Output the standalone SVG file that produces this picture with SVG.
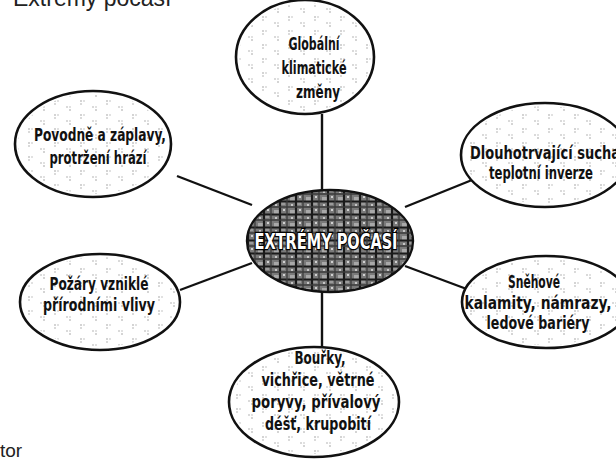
<svg xmlns="http://www.w3.org/2000/svg" width="616" height="459" viewBox="0 0 616 459">
<defs>
<pattern id="dots" width="26" height="14" patternUnits="userSpaceOnUse">
<circle cx="3" cy="3" r="0.7" fill="#888"/><circle cx="6" cy="3" r="0.7" fill="#aaa"/><circle cx="3" cy="6" r="0.7" fill="#999"/>
<circle cx="15" cy="9" r="0.7" fill="#999"/><circle cx="18" cy="9" r="0.7" fill="#aaa"/><circle cx="18" cy="12" r="0.7" fill="#888"/>
</pattern>
<pattern id="mesh" width="16" height="13" patternUnits="userSpaceOnUse">
<rect width="16" height="13" fill="#7a7a7a"/>
<rect x="2" y="2" width="5" height="4" fill="#a8a8a8"/>
<rect x="9" y="7" width="4" height="3" fill="#9a9a9a"/>
<rect x="11" y="1" width="2" height="2" fill="#cfcfcf"/>
<rect x="3" y="9" width="2" height="2" fill="#c5c5c5"/>
<path d="M0 6.5H16M8 0V13" stroke="#1a1a1a" stroke-width="2.2"/>
<path d="M0 12H16M15 0V13" stroke="#3a3a3a" stroke-width="1.3"/>
</pattern>
</defs>
<style>
.node ellipse{fill:#fff;stroke:#111;stroke-width:2.6}
.node ellipse.tex{fill:url(#dots);stroke:none}
.t{font-family:"DejaVu Sans Condensed","DejaVu Sans",sans-serif;font-weight:bold;font-size:17px;fill:#111;text-anchor:middle}
.c{stroke:#111;stroke-width:2.4;fill:none}
</style>
<text x="13" y="6" font-family="Liberation Sans, Arial, sans-serif" font-size="23" fill="#222">Extrémy počasí</text>
<text x="0" y="457" font-family="Liberation Sans, Arial, sans-serif" font-size="19" fill="#222">tor</text>
<g id="connectors">
<line class="c" x1="322" y1="114" x2="322" y2="191"/>
<line class="c" x1="322" y1="290" x2="322" y2="348"/>
<line class="c" x1="177" y1="176" x2="252" y2="205"/>
<line class="c" x1="405" y1="207" x2="472" y2="180"/>
<line class="c" x1="180" y1="290" x2="252" y2="263"/>
<line class="c" x1="405" y1="266" x2="472" y2="291"/>
</g>
<g id="n-top" class="node">
<ellipse cx="305" cy="57" rx="69" ry="57"/><ellipse class="tex" cx="305" cy="57" rx="66" ry="54"/>
<text class="t" x="314" y="50" textLength="51" lengthAdjust="spacingAndGlyphs">Globální</text>
<text class="t" x="314" y="74" textLength="65" lengthAdjust="spacingAndGlyphs">klimatické</text>
<text class="t" x="318" y="98" textLength="44" lengthAdjust="spacingAndGlyphs">změny</text>
</g>
<g id="n-ul" class="node">
<ellipse cx="93" cy="144" rx="78" ry="53"/><ellipse class="tex" cx="93" cy="144" rx="75" ry="50"/>
<text class="t" x="100" y="141" textLength="132" lengthAdjust="spacingAndGlyphs">Povodně a záplavy,</text>
<text class="t" x="98" y="164" textLength="97" lengthAdjust="spacingAndGlyphs">protržení hrází</text>
</g>
<g id="n-ur" class="node">
<ellipse cx="545" cy="155" rx="84" ry="52"/><ellipse class="tex" cx="545" cy="155" rx="81" ry="49"/>
<text class="t" x="545" y="159" textLength="150" lengthAdjust="spacingAndGlyphs">Dlouhotrvající sucha</text>
<text class="t" x="541" y="179" textLength="104" lengthAdjust="spacingAndGlyphs">teplotní inverze</text>
</g>
<g id="n-center">
<ellipse cx="330" cy="241" rx="83" ry="51" fill="url(#mesh)" stroke="#111" stroke-width="2.4"/>
<text x="326" y="249" font-family="DejaVu Sans Condensed,DejaVu Sans,sans-serif" font-weight="bold" font-size="21" fill="#fff" stroke="#000" stroke-width="2.5" paint-order="stroke" text-anchor="middle" textLength="143" lengthAdjust="spacingAndGlyphs">EXTRÉMY POČASÍ</text>
</g>
<g id="n-ll" class="node">
<ellipse cx="100" cy="302" rx="80" ry="48"/><ellipse class="tex" cx="100" cy="302" rx="77" ry="45"/>
<text class="t" x="99" y="290" textLength="99" lengthAdjust="spacingAndGlyphs">Požáry vzniklé</text>
<text class="t" x="99" y="311" textLength="112" lengthAdjust="spacingAndGlyphs">přírodními vlivy</text>
</g>
<g id="n-lr" class="node">
<ellipse cx="546" cy="302" rx="84" ry="46"/><ellipse class="tex" cx="546" cy="302" rx="81" ry="43"/>
<text class="t" x="534" y="288" textLength="52" lengthAdjust="spacingAndGlyphs">Sněhové</text>
<text class="t" x="538" y="309" textLength="147" lengthAdjust="spacingAndGlyphs">kalamity, námrazy,</text>
<text class="t" x="538" y="329" textLength="103" lengthAdjust="spacingAndGlyphs">ledové bariéry</text>
</g>
<g id="n-bot" class="node">
<ellipse cx="314" cy="402" rx="85" ry="55"/><ellipse class="tex" cx="314" cy="402" rx="82" ry="52"/>
<text class="t" x="320" y="364" textLength="51" lengthAdjust="spacingAndGlyphs">Bouřky,</text>
<text class="t" x="318" y="386" textLength="113" lengthAdjust="spacingAndGlyphs">vichřice, větrné</text>
<text class="t" x="316" y="408" textLength="129" lengthAdjust="spacingAndGlyphs">poryvy, přívalový</text>
<text class="t" x="318" y="430" textLength="106" lengthAdjust="spacingAndGlyphs">déšť, krupobití</text>
</g>
</svg>
